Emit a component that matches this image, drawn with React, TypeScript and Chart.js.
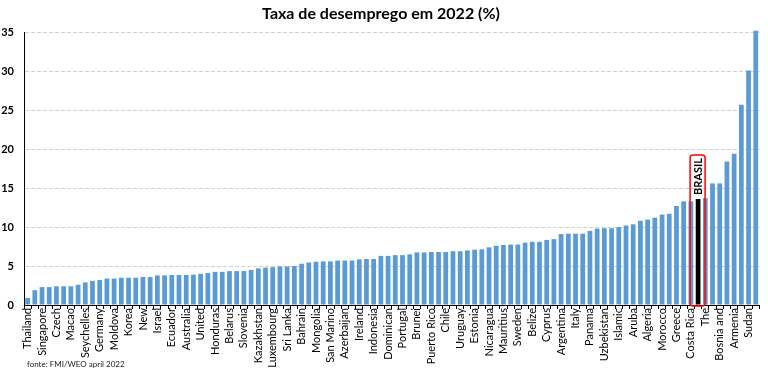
import React, { useEffect, useRef } from "react";
import { Chart, registerables } from "chart.js";

Chart.register(...registerables);

const TITLE = "Taxa de desemprego em 2022 (%)";
const SOURCE = "fonte: FMI/WEO april 2022";
const BRAZIL_LABEL = "BRASIL";

// Labels shown on the axis (every other country)
const shownLabels = [
  "Thailand", "Singapore", "Czech", "Macao", "Seychelles", "Germany", "Moldova", "Korea",
  "New", "Israel", "Ecuador", "Australia", "United", "Honduras", "Belarus", "Slovenia",
  "Kazakhstan", "Luxembourg", "Sri Lanka", "Bahrain", "Mongolia", "San Marino", "Azerbaijan",
  "Ireland", "Indonesia", "Dominican", "Portugal", "Brunei", "Puerto Rico", "Chile", "Uruguay",
  "Estonia", "Nicaragua", "Mauritius", "Sweden", "Belize", "Cyprus", "Argentina", "Italy",
  "Panama", "Uzbekistan", "Islamic", "Aruba", "Algeria", "Morocco", "Greece", "Costa Rica",
  "The", "Bosnia and", "Armenia", "Sudan",
];

const brazilIndex = 93;

// Unemployment rate 2022 (%), sorted ascending
const values = [
  0.9, 1.9, 2.3, 2.3, 2.4, 2.4, 2.4, 2.6, 2.9, 3.1,
  3.2, 3.4, 3.4, 3.5, 3.5, 3.5, 3.6, 3.6, 3.8, 3.8,
  3.85, 3.85, 3.85, 3.9, 4.0, 4.1, 4.25, 4.25, 4.35, 4.35,
  4.35, 4.5, 4.7, 4.8, 4.85, 4.95, 4.95, 5.0, 5.3, 5.45,
  5.55, 5.6, 5.6, 5.7, 5.7, 5.7, 5.85, 5.9, 5.9, 6.3,
  6.3, 6.4, 6.4, 6.5, 6.75, 6.75, 6.8, 6.8, 6.8, 6.9,
  6.9, 7.0, 7.1, 7.15, 7.4, 7.6, 7.7, 7.75, 7.75, 8.0,
  8.1, 8.1, 8.35, 8.45, 9.1, 9.15, 9.15, 9.15, 9.5, 9.8,
  9.85, 9.85, 10.0, 10.2, 10.35, 10.8, 10.95, 11.2, 11.6, 11.7,
  12.7, 13.3, 13.3, 13.6, 13.7, 15.6, 15.6, 18.4, 19.4, 25.7,
  30.1, 35.2,
];

const yTicks = [0, 5, 10, 15, 20, 25, 30, 35];

const categories: string[] = values.map((_, i) =>
  i === brazilIndex ? BRAZIL_LABEL : i % 2 === 0 ? shownLabels[i / 2] ?? "" : ""
);

const BLUE = "#5B9BD5";
const FONT = "Lato, 'Open Sans', sans-serif";

export default function App() {
  const ref = useRef<HTMLCanvasElement | null>(null);

  useEffect(() => {
    const canvas = ref.current;
    if (!canvas) return;

    const annotate = {
      id: "annotate",
      afterDatasetsDraw(chart: any) {
        const ctx = chart.ctx;
        const meta = chart.getDatasetMeta(0);
        const bar = meta.data[brazilIndex];
        if (!bar) return;
        const x = bar.x;
        const y = bar.y;
        ctx.save();
        ctx.font = `bold 11px ${FONT}`;
        const w = ctx.measureText(BRAZIL_LABEL).width;
        ctx.translate(x, y - 4);
        ctx.rotate(-Math.PI / 2);
        ctx.fillStyle = "#000";
        ctx.textAlign = "left";
        ctx.textBaseline = "middle";
        ctx.fillText(BRAZIL_LABEL, 0, 0);
        ctx.restore();

        const top = y - 4 - w - 3;
        const bottom = chart.chartArea.bottom + 1;
        const left = x - 8;
        const right = x + 7;
        const r = 3;
        ctx.save();
        ctx.strokeStyle = "#FF0000";
        ctx.lineWidth = 1.5;
        ctx.beginPath();
        ctx.moveTo(left + r, top);
        ctx.lineTo(right - r, top);
        ctx.quadraticCurveTo(right, top, right, top + r);
        ctx.lineTo(right, bottom - r);
        ctx.quadraticCurveTo(right, bottom, right - r, bottom);
        ctx.lineTo(left + r, bottom);
        ctx.quadraticCurveTo(left, bottom, left, bottom - r);
        ctx.lineTo(left, top + r);
        ctx.quadraticCurveTo(left, top, left + r, top);
        ctx.stroke();
        ctx.restore();
      },
      afterDraw(chart: any) {
        const ctx = chart.ctx;
        ctx.save();
        ctx.font = `8px ${FONT}`;
        ctx.fillStyle = "#222";
        ctx.textAlign = "left";
        ctx.textBaseline = "alphabetic";
        ctx.fillText(SOURCE, 27, 367);
        ctx.restore();
      },
    };

    const chart = new Chart(canvas, {
      type: "bar",
      data: {
        labels: categories,
        datasets: [
          {
            data: values,
            backgroundColor: values.map((_, i) => (i === brazilIndex ? "#000000" : BLUE)),
            borderWidth: 0,
            barPercentage: 0.66,
            categoryPercentage: 1,
            clip: false as any,
          },
        ],
      },
      options: {
        responsive: false,
        animation: false,
        devicePixelRatio: 1,
        layout: { padding: { left: 0, right: 6, top: 0, bottom: 0 } },
        plugins: {
          legend: { display: false },
          tooltip: { enabled: false },
          title: {
            display: true,
            text: TITLE,
            color: "#000",
            font: { family: FONT, size: 16, weight: "bold" },
            padding: { top: 4, bottom: 9 },
          },
        },
        scales: {
          x: {
            type: "category",
            offset: true,
            grid: {
              offset: true,
              drawOnChartArea: false,
              drawTicks: true,
              tickLength: 4,
              color: "#000",
              lineWidth: 1,
            },
            border: { display: true, color: "#000", width: 1 },
            ticks: {
              autoSkip: false,
              maxRotation: 90,
              minRotation: 90,
              padding: -1,
              color: "#000",
              font: { family: FONT, size: 11 },
              callback: (_v: any, i: number) => (i % 2 === 0 ? categories[i] : ""),
            },
            afterFit: (s: any) => {
              s.height = 66;
            },
          },
          y: {
            min: yTicks[0],
            max: yTicks[yTicks.length - 1],
            afterBuildTicks: (s: any) => {
              s.ticks = yTicks.map((v) => ({ value: v }));
            },
            grid: {
              drawTicks: false,
              color: (c: any) => (c.tick && c.tick.value === 0 ? "rgba(0,0,0,0)" : "#D0D0D0"),
              lineWidth: 1,
            },
            border: { display: true, color: "#000", width: 1, dash: [4, 2] },
            ticks: {
              padding: 10,
              color: "#000",
              font: { family: FONT, size: 11, weight: "bold" },
            },
            afterFit: (s: any) => {
              s.width = 24;
            },
          },
        },
      },
      plugins: [annotate],
    } as any);

    return () => chart.destroy();
  }, []);

  return (
    <div style={{ position: "fixed", left: 0, top: 0, width: 768, height: 371, background: "#fff" }}>
      <canvas ref={ref} width={768} height={371} style={{ display: "block", width: 768, height: 371 }} />
    </div>
  );
}
